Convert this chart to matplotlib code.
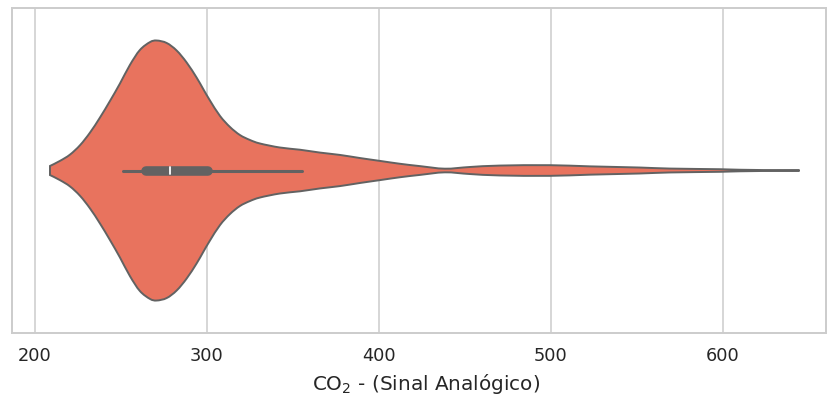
import numpy as np
import matplotlib
matplotlib.use("Agg")
import matplotlib.pyplot as plt
from matplotlib.path import Path
from matplotlib.patches import PathPatch
import seaborn as sns

sns.set_theme(style="whitegrid")
plt.rcParams['font.family'] = ['DejaVu Sans']

# violin outline: CO2 value -> relative half-width (peak = 1)
co2_values = [208.7, 214.5, 220.3, 226.2, 232.0, 237.8, 243.6, 249.4, 255.2,
              261.0, 266.9, 270.8, 276.6, 282.4, 288.2, 294.0, 297.8, 301.7,
              307.6, 313.4, 319.2, 325.0, 330.8, 342.4, 354.1, 365.7, 377.3,
              389.0, 400.6, 412.2, 423.8, 438.4, 452.9, 470.3, 499.4, 522.7,
              551.7, 569.2, 598.3, 609.9, 644.8]
rel_width = [0.035, 0.074, 0.122, 0.195, 0.292, 0.408, 0.535, 0.669, 0.812,
             0.927, 0.988, 1.000, 0.981, 0.923, 0.831, 0.715, 0.628, 0.540,
             0.420, 0.335, 0.273, 0.235, 0.208, 0.177, 0.160, 0.138, 0.120,
             0.096, 0.074, 0.052, 0.034, 0.014, 0.027, 0.038, 0.041, 0.032,
             0.023, 0.015, 0.010, 0.006, 0.0]

# box summary
whisker_lo, q1, median, q3, whisker_hi = 251.3, 264.8, 278.5, 300.9, 355.1

fill_color = sns.desaturate("tomato", 0.75)
line_color = "#626262"


def smooth_segments(pts):
    # catmull-rom through the read points, as bezier curves
    verts, codes = [], []
    n = len(pts)
    for i in range(n - 1):
        p0 = pts[max(i - 1, 0)]
        p1, p2 = pts[i], pts[i + 1]
        p3 = pts[min(i + 2, n - 1)]
        c1 = p1 + (p2 - p0) / 6
        c2 = p2 - (p3 - p1) / 6
        verts += [c1, c2, p2]
        codes += [Path.CURVE4] * 3
    return verts, codes


fig = plt.figure(figsize=(8.27, 3.99), dpi=100)
ax = fig.add_axes([0.0145, 0.1654, 0.984, 0.8145])

x = np.array(co2_values)
half = 0.4 * np.array(rel_width)
upper = np.column_stack([x, -half])
lower = np.column_stack([x, half])[::-1]

verts = [upper[0]]
codes = [Path.MOVETO]
v, c = smooth_segments(upper)
verts += v
codes += c
verts.append(lower[0])
codes.append(Path.LINETO)
v, c = smooth_segments(lower)
verts += v
codes += c
verts.append(upper[0])
codes.append(Path.CLOSEPOLY)
violin = PathPatch(Path(verts, codes), facecolor=fill_color,
                   edgecolor=line_color, lw=1.4, zorder=2)
ax.add_patch(violin)

# inner box
ax.plot([whisker_lo, whisker_hi], [0, 0], color=line_color, lw=2.2,
        solid_capstyle="round", zorder=4)
ax.plot([q1, q3], [0, 0], color=line_color, lw=6.9,
        solid_capstyle="round", zorder=5)
ax.plot([median, median], [-0.012, 0.012], color="white", lw=1.3, zorder=6)

ax.set_xlim(186.6, 660)
ax.set_ylim(0.5, -0.5)
ax.set_yticks([])
ax.set_xticks([200, 300, 400, 500, 600])
ax.grid(axis="x", color="#cccccc", lw=1.1)
ax.grid(axis="y", visible=False)
for s in ax.spines.values():
    s.set_color("#cccccc")
    s.set_linewidth(1.4)
ax.tick_params(axis="x", length=0, pad=10, labelsize=12.8, labelcolor="#262626")
ax.set_xlabel("CO$_2$ - (Sinal Analógico)", fontsize=14.4, color="#262626")
ax.xaxis.set_label_coords(0.509, -0.12, transform=ax.transAxes)
ax.xaxis.label.set_verticalalignment("top")

fig.savefig("out.png", dpi=100)
